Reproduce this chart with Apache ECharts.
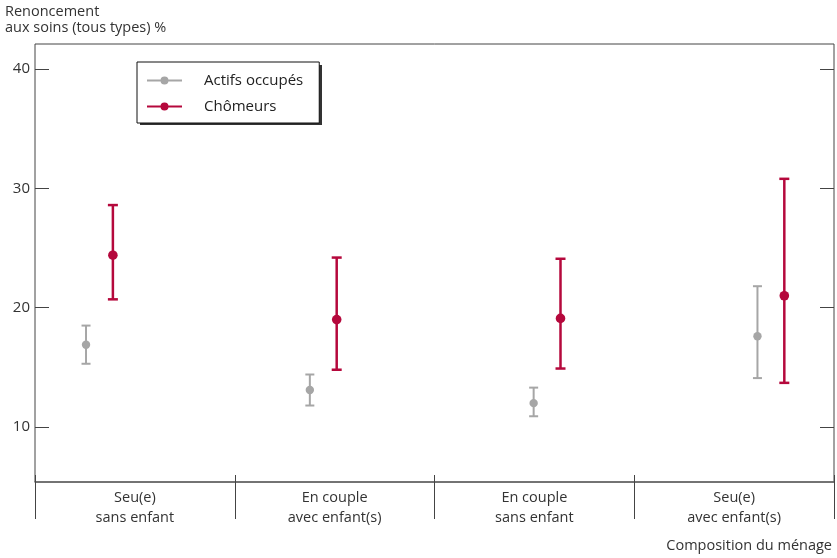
<!DOCTYPE html>
<html>
<head>
<meta charset="utf-8">
<script src="https://cdn.jsdelivr.net/npm/echarts@6/dist/echarts.min.js"></script>
<style>html,body{margin:0;padding:0;background:#fff}#c{width:837px;height:558px}</style>
</head>
<body>
<div id="c"></div>
<script>
const categories = ['Seu(e)\nsans enfant', 'En couple\navec enfant(s)', 'En couple\nsans enfant', 'Seu(e)\navec enfant(s)'];
const yTicks = [10, 20, 30, 40];
const seriesNames = ['Actifs occupés', 'Chômeurs'];
const actifsValue = [16.9, 13.1, 12.0, 17.6];
const actifsLow   = [15.3, 11.8, 10.9, 14.1];
const actifsHigh  = [18.5, 14.4, 13.3, 21.8];
const chomeursValue = [24.4, 19.0, 19.1, 21.0];
const chomeursLow   = [20.7, 14.8, 14.9, 13.7];
const chomeursHigh  = [28.6, 24.2, 24.1, 30.8];

const FONT = 'Open Sans';
const GREY = '#a6a6a6';
const RED = '#b5083c';

function build(low, high, val) {
  return val.map((v, i) => [i + 1, low[i], high[i], v]);
}
function makeRender(offset, color, w, cap, r) {
  return function (params, api) {
    const x = api.value(0) + offset;
    const lo = api.coord([x, api.value(1)]);
    const hi = api.coord([x, api.value(2)]);
    const pv = api.coord([x, api.value(3)]);
    return {
      type: 'group',
      children: [
        { type: 'line', shape: { x1: lo[0], y1: lo[1], x2: hi[0], y2: hi[1] }, style: { stroke: color, lineWidth: w } },
        { type: 'line', shape: { x1: hi[0] - cap, y1: hi[1], x2: hi[0] + cap, y2: hi[1] }, style: { stroke: color, lineWidth: w } },
        { type: 'line', shape: { x1: lo[0] - cap, y1: lo[1], x2: lo[0] + cap, y2: lo[1] }, style: { stroke: color, lineWidth: w } },
        { type: 'circle', shape: { cx: pv[0], cy: pv[1], r: r }, style: { fill: color } }
      ]
    };
  };
}
const legendIcon = 'path://M0,3 L35,3 L35,5 L0,5 Z M17.5,0 A4,4 0 1,1 17.5,8 A4,4 0 1,1 17.5,0 Z';

const chart = echarts.init(document.getElementById('c'), null, { renderer: 'canvas' });
const yMin = 5.39, yMax = 42.1;
chart.setOption({
  animation: false,
  textStyle: { fontFamily: FONT },
  title: [
    { text: 'Renoncement\naux soins (tous types) %', left: 5, top: 4, padding: 0,
      textStyle: { fontSize: 14.5, fontWeight: 'normal', color: '#333', lineHeight: 16, fontFamily: FONT } },
    { text: 'Composition du ménage', right: 5, top: 538, padding: 0,
      textStyle: { fontSize: 14.5, fontWeight: 'normal', color: '#333', fontFamily: FONT } }
  ],
  graphic: [
    { type: 'rect', z: 1, left: 140, top: 65, shape: { width: 182, height: 60 }, style: { fill: '#333' } }
  ],
  legend: {
    left: 137, top: 62, orient: 'vertical', z: 5,
    backgroundColor: '#fff', borderColor: '#111', borderWidth: 1,
    padding: [11, 16, 9, 10], itemGap: 11,
    itemWidth: 35, itemHeight: 8,
    textStyle: { fontSize: 15, color: '#222', fontFamily: FONT, padding: [0, 0, 0, 17] },
    data: seriesNames.map(n => ({ name: n, icon: legendIcon }))
  },
  grid: { left: 35, right: 3, top: 44, bottom: 76, show: true, borderColor: '#444', borderWidth: 1, containLabel: false },
  xAxis: [
    { type: 'category', data: categories, position: 'bottom', boundaryGap: true,
      axisLine: { show: true, lineStyle: { color: '#666', width: 1.5 } },
      axisTick: { show: true, inside: true, length: 7, lineStyle: { color: '#444' } },
      axisLabel: { fontSize: 14.5, color: '#333', lineHeight: 20, margin: 6, fontFamily: FONT },
      splitLine: { show: false } },
    { type: 'category', data: categories, position: 'bottom', boundaryGap: true,
      axisLine: { show: false }, axisTick: { show: true, length: 37, lineStyle: { color: '#444' } },
      axisLabel: { show: false }, splitLine: { show: false } },
    { type: 'value', min: 0.712, max: 4.282, show: false, splitLine: { show: false } }
  ],
  yAxis: [
    { type: 'value', min: yMin, max: yMax, position: 'left',
      axisLine: { show: false },
      axisTick: { show: true, inside: true, length: 14, customValues: yTicks, lineStyle: { color: '#444' } },
      axisLabel: { fontSize: 15, color: '#333', margin: 5, customValues: yTicks, fontFamily: FONT },
      splitLine: { show: false } },
    { type: 'value', min: yMin, max: yMax, position: 'right',
      axisLine: { show: false },
      axisTick: { show: true, inside: true, length: 14, customValues: yTicks, lineStyle: { color: '#444' } },
      axisLabel: { show: false }, splitLine: { show: false } }
  ],
  series: [
    { name: seriesNames[0], type: 'custom', xAxisIndex: 2, yAxisIndex: 0,
      itemStyle: { color: GREY },
      renderItem: makeRender(-0.06, GREY, 2, 4.5, 4.2),
      encode: { x: 0, y: [1, 2, 3] },
      data: build(actifsLow, actifsHigh, actifsValue) },
    { name: seriesNames[1], type: 'custom', xAxisIndex: 2, yAxisIndex: 0,
      itemStyle: { color: RED },
      renderItem: makeRender(0.06, RED, 2.5, 5, 4.8),
      encode: { x: 0, y: [1, 2, 3] },
      data: build(chomeursLow, chomeursHigh, chomeursValue) }
  ]
});
</script>
</body>
</html>
